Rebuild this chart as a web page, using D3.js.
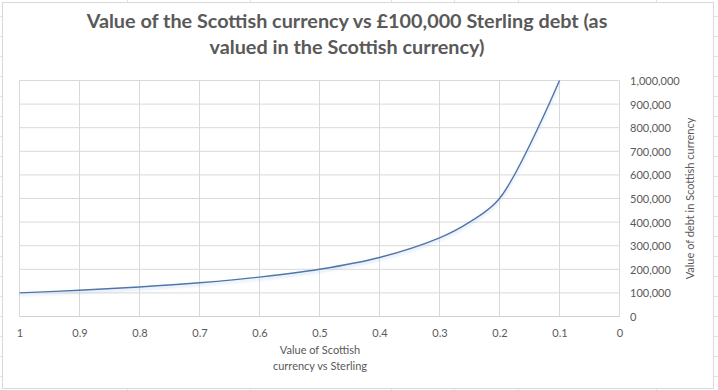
<!DOCTYPE html>
<html>
<head>
<meta charset="utf-8">
<script src="https://cdn.jsdelivr.net/npm/d3@7"></script>
<style>
html,body{margin:0;padding:0;background:#fff;}
svg{display:block;}
text{font-family:Lato,"Open Sans",sans-serif;fill:#595959;}
</style>
</head>
<body>
<svg id="chart" width="718" height="390"></svg>
<script>
// ---- data ----
const currencyValue = [1, 0.9, 0.8, 0.7, 0.6, 0.5, 0.4, 0.3, 0.25, 0.2, 0.1];
const debtValue = [100000, 111111, 125000, 142857, 166667, 200000, 250000, 333333, 400000, 500000, 1000000];
const xTicks = [1, 0.9, 0.8, 0.7, 0.6, 0.5, 0.4, 0.3, 0.2, 0.1, 0];
const yTicks = [0, 100000, 200000, 300000, 400000, 500000, 600000, 700000, 800000, 900000, 1000000];
const titleLines = ["Value of the Scottish currency vs £100,000 Sterling debt (as", "valued in the Scottish currency)"];
const xTitleLines = ["Value of Scottish", "currency vs Sterling"];
const yTitle = "Value of debt in Scottish currency";

const svg = d3.select("#chart");
const W = 718, H = 390;

// spreadsheet cell lines behind the chart
const bg = svg.append("g").attr("stroke", "#e3e3e3").attr("stroke-width", 1);
d3.range(16, H, 20).forEach(y => {
  bg.append("line").attr("x1", 0).attr("x2", W).attr("y1", y + 0.5).attr("y2", y + 0.5);
});
[127, 250, 391, 454, 518, 656].forEach(x => {
  bg.append("line").attr("x1", x + 0.5).attr("x2", x + 0.5).attr("y1", 0).attr("y2", H);
});

// chart area
svg.append("rect").attr("x", 2.5).attr("y", 2.5).attr("width", 711).attr("height", 386)
  .attr("fill", "#fff").attr("stroke", "#d9d9d9").attr("stroke-width", 1);

const plot = {left: 19.5, right: 619.5, top: 80.5, bottom: 316.5};
const x = d3.scaleLinear().domain([1, 0]).range([plot.left, plot.right]);
const y = d3.scaleLinear().domain([0, 1000000]).range([plot.bottom, plot.top]);

// gridlines
const grid = svg.append("g").attr("stroke", "#d9d9d9").attr("stroke-width", 1);
xTicks.forEach(t => {
  grid.append("line").attr("x1", x(t)).attr("x2", x(t)).attr("y1", plot.top).attr("y2", plot.bottom);
});
yTicks.forEach(t => {
  grid.append("line").attr("x1", plot.left).attr("x2", plot.right).attr("y1", y(t)).attr("y2", y(t))
    .attr("stroke", t === 0 ? "#cfcfcf" : "#d9d9d9");
});

// x axis labels
const xAxis = d3.axisBottom(x).tickValues(xTicks).tickSize(0).tickPadding(0)
  .tickFormat(d => d3.format("")(+d.toFixed(1)));
const gx = svg.append("g").attr("transform", `translate(0,${plot.bottom})`).call(xAxis);
gx.select(".domain").remove();
gx.selectAll("text").attr("dy", null).attr("y", 20.5)
  .style("font-size", "11px").style("font-family", "Lato, sans-serif").attr("fill", "#595959");

// y axis labels (right side)
const yAxis = d3.axisRight(y).tickValues(yTicks).tickSize(0).tickPadding(0)
  .tickFormat(d3.format(","));
const gy = svg.append("g").attr("transform", `translate(630,0)`).call(yAxis);
gy.select(".domain").remove();
gy.selectAll("text").attr("x", 0).attr("dy", "0.36em")
  .style("font-size", "11px").style("font-family", "Lato, sans-serif").attr("fill", "#595959");

// line with soft shadow
const defs = svg.append("defs");
const f = defs.append("filter").attr("id", "shadow").attr("x", "-5%").attr("y", "-5%").attr("width", "110%").attr("height", "120%");
f.append("feDropShadow").attr("dx", 0).attr("dy", 2).attr("stdDeviation", 1.5)
  .attr("flood-color", "#9fc0e8").attr("flood-opacity", 0.55);

const pts = currencyValue.map((c, i) => [c, debtValue[i]]);
const line = d3.line().x(d => x(d[0])).y(d => y(d[1])).curve(d3.curveCatmullRom.alpha(0.5));
svg.append("path").datum(pts).attr("d", line)
  .attr("fill", "none").attr("stroke", "#5174a9").attr("stroke-width", 1.4)
  .attr("filter", "url(#shadow)");

// title
const titleG = svg.append("g");
const targetW = 521;
titleLines.forEach((t, i) => {
  titleG.append("text").attr("x", 347).attr("y", 28 + i * 26).attr("text-anchor", "middle")
    .style("font-size", "19px").style("font-weight", "bold").attr("fill", "#595959").text(t);
});
const len0 = titleG.select("text").node().getComputedTextLength();
titleG.selectAll("text").style("font-size", (19 * targetW / len0).toFixed(2) + "px");

// x axis title
xTitleLines.forEach((t, i) => {
  svg.append("text").attr("x", 320).attr("y", 354 + i * 16).attr("text-anchor", "middle")
    .style("font-size", "11px").attr("fill", "#595959").text(t);
});

// y axis title
svg.append("text").attr("transform", `translate(694,${(plot.top + plot.bottom) / 2}) rotate(-90)`)
  .attr("text-anchor", "middle").style("font-size", "11px").attr("fill", "#595959").text(yTitle);
</script>
</body>
</html>
